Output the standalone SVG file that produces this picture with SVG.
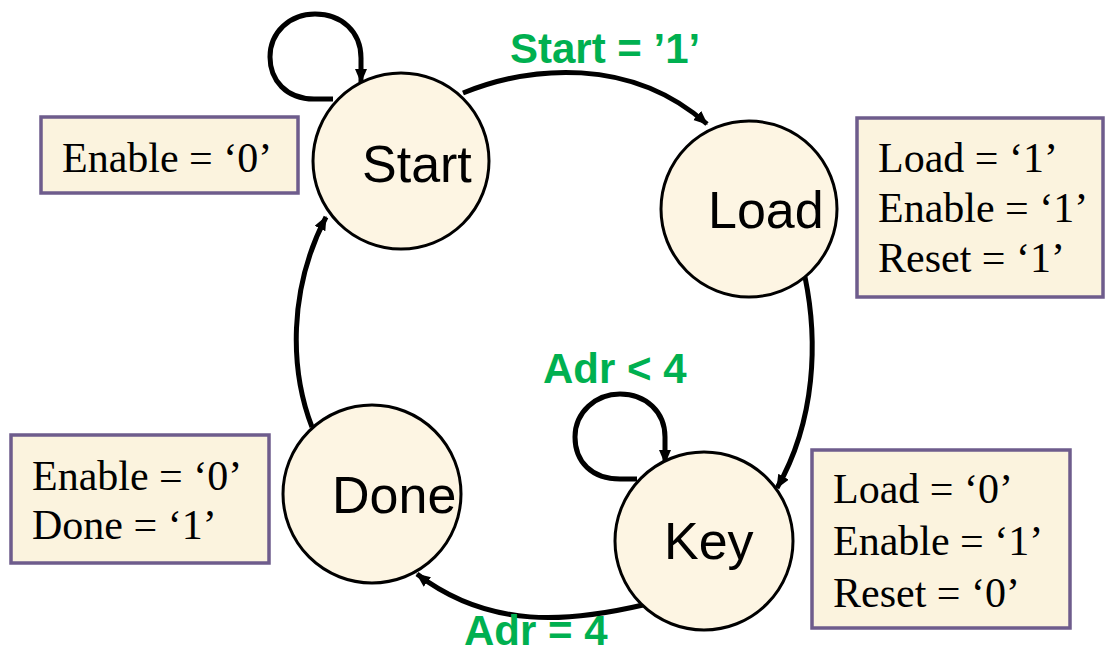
<svg xmlns="http://www.w3.org/2000/svg" width="1106" height="655" viewBox="0 0 1106 655">
  <style>
    .state { fill: #FDF5E3; stroke: #000; stroke-width: 3; }
    .state-label { font-family: "Liberation Sans", Arial, sans-serif; font-size: 52px; fill: #000; }
    .out-box { fill: #FBF3DE; stroke: #6E5C8C; stroke-width: 3.5; }
    .out-text { font-family: "Liberation Serif", "Times New Roman", serif; font-size: 42px; fill: #000; }
    .edge { fill: none; stroke: #000; stroke-width: 5; marker-end: url(#arrow); }
    .cond { font-family: "Liberation Sans", Arial, sans-serif; font-weight: bold; font-size: 42px; fill: #00B050; }
  </style>
  <defs>
    <marker id="arrow" markerUnits="userSpaceOnUse" markerWidth="16" markerHeight="14" refX="13" refY="6" orient="auto">
      <path d="M0,0 L14,6 L0,12 Z" fill="#000"/>
    </marker>
  </defs>

  <rect width="1106" height="655" fill="#fff"/>

  <!-- transitions -->
  <g id="connectors">
    <!-- Start self-loop -->
    <path class="edge" d="M333,99 H314 C286,99 270,80 270,57 C270,32 290,14 315,14 C342,14 361,32 361,58 L361,82"/>
    <!-- Start -> Load -->
    <path class="edge" d="M463,93 C530,66 630,56 707,124"/>
    <!-- Load -> Key -->
    <path class="edge" d="M805,277 C818,340 816,420 777,488"/>
    <!-- Key self-loop -->
    <path class="edge" d="M637,479 H620 C592,479 575,462 575,437 C575,412 596,394 620,394 C646,394 665,412 665,437 L665,463"/>
    <!-- Key -> Done -->
    <path class="edge" d="M643,605 C570,622 490,630 417,574"/>
    <!-- Done -> Start -->
    <path class="edge" d="M312,427 C290,370 288,290 326,217"/>
  </g>

  <g id="labels">
    <text class="cond" x="510" y="63">Start = ’1’</text>
    <text class="cond" x="543" y="383">Adr &lt; 4</text>
    <text class="cond" x="464" y="645">Adr = 4</text>
  </g>

  <g id="start">
    <circle class="state" cx="401" cy="161" r="88"/>
    <text class="state-label" x="362" y="182">Start</text>
  </g>
  <g id="load">
    <circle class="state" cx="749" cy="209" r="88"/>
    <text class="state-label" x="708" y="228">Load</text>
  </g>
  <g id="key">
    <circle class="state" cx="704" cy="541" r="89"/>
    <text class="state-label" x="664" y="559">Key</text>
  </g>
  <g id="done">
    <circle class="state" cx="372" cy="494" r="89"/>
    <text class="state-label" x="332" y="513">Done</text>
  </g>

  <g id="start-outputs">
    <rect class="out-box" x="41" y="117" width="257" height="76"/>
    <text class="out-text" x="62" y="172">Enable = ‘0’</text>
  </g>
  <g id="load-outputs">
    <rect class="out-box" x="857" y="118" width="246" height="179"/>
    <text class="out-text" x="878" y="172">Load = ‘1’</text>
    <text class="out-text" x="878" y="222">Enable = ‘1’</text>
    <text class="out-text" x="878" y="272">Reset = ‘1’</text>
  </g>
  <g id="key-outputs">
    <rect class="out-box" x="812" y="450" width="258" height="178"/>
    <text class="out-text" x="833" y="503">Load = ‘0’</text>
    <text class="out-text" x="833" y="555">Enable = ‘1’</text>
    <text class="out-text" x="833" y="607">Reset = ‘0’</text>
  </g>
  <g id="done-outputs">
    <rect class="out-box" x="11" y="435" width="258" height="128"/>
    <text class="out-text" x="32" y="490">Enable = ‘0’</text>
    <text class="out-text" x="32" y="539">Done = ‘1’</text>
  </g>
</svg>
